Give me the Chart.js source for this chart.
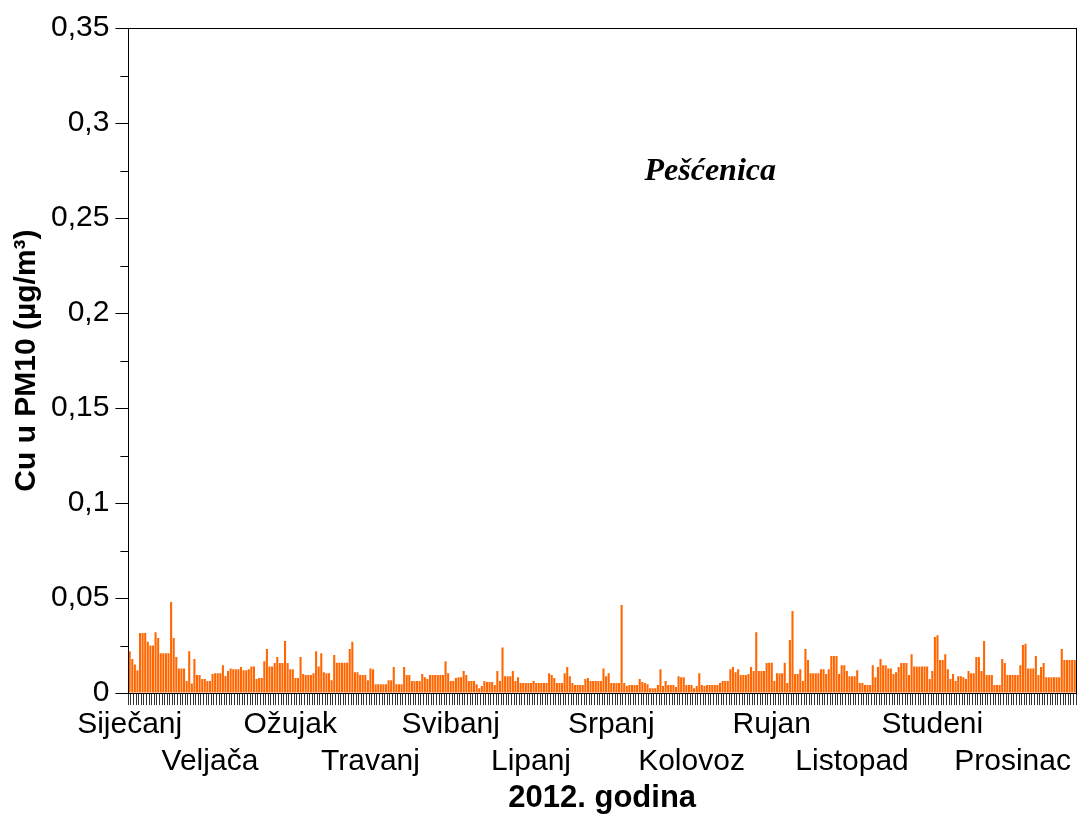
<!DOCTYPE html>
<html>
<head>
<meta charset="utf-8">
<script src="https://cdn.jsdelivr.net/npm/chart.js@4/dist/chart.umd.min.js"></script>
<style>
	html, body { margin: 0; padding: 0; background: #fff; }
	#wrap { width: 1089px; height: 814px; }
</style>
</head>
<body>
<div id="wrap"><canvas id="myChart" width="1089" height="814"></canvas></div>
<script>
// Nazivi mjeseci (x os)
var months = ['Siječanj', 'Veljača', 'Ožujak', 'Travanj', 'Svibanj', 'Lipanj',
	'Srpanj', 'Kolovoz', 'Rujan', 'Listopad', 'Studeni', 'Prosinac'];

// Dnevne vrijednosti Cu u PM10 (µg/m³), 2012.
var sijecanj = [0.022, 0.018, 0.015, 0.012, 0.0316, 0.0316, 0.0316, 0.027, 0.025, 0.025,
	0.032, 0.029, 0.021, 0.021, 0.021, 0.021, 0.048, 0.029, 0.019, 0.013,
	0.013, 0.013, 0.0063, 0.022, 0.005, 0.018, 0.0095, 0.0095, 0.0074, 0.0074, 0.0063];
var veljaca = [0.0063, 0.010, 0.0105, 0.0105, 0.0105, 0.0147, 0.009, 0.0116, 0.013, 0.0126,
	0.0126, 0.0126, 0.0137, 0.012, 0.012, 0.0126, 0.014, 0.014, 0.0074, 0.0079,
	0.0079, 0.0168, 0.0232, 0.014, 0.014, 0.0158, 0.019, 0.0158, 0.0158];
var ozujak = [0.0274, 0.0158, 0.0126, 0.0126, 0.0079, 0.0079, 0.019, 0.010, 0.0095, 0.0095,
	0.0095, 0.0105, 0.022, 0.014, 0.021, 0.011, 0.0105, 0.0105, 0.0068, 0.020,
	0.016, 0.016, 0.016, 0.016, 0.016, 0.0232, 0.027, 0.011, 0.011, 0.0095, 0.0095];
var travanj = [0.0095, 0.0068, 0.013, 0.0126, 0.0047, 0.0047, 0.0047, 0.0047, 0.0047, 0.0068,
	0.0068, 0.0137, 0.0047, 0.0047, 0.0047, 0.0137, 0.0095, 0.0095, 0.0063, 0.0063,
	0.0063, 0.0063, 0.010, 0.0084, 0.0074, 0.0095, 0.0095, 0.0095, 0.0095, 0.0095];
var svibanj = [0.0095, 0.0168, 0.0105, 0.0063, 0.0063, 0.0079, 0.0084, 0.0084, 0.0116, 0.0095,
	0.0063, 0.0063, 0.0063, 0.0047, 0.0026, 0.0037, 0.0063, 0.0058, 0.0058, 0.0058,
	0.0042, 0.0116, 0.0063, 0.024, 0.0089, 0.0089, 0.0089, 0.0116, 0.0063, 0.0084, 0.0053];
var lipanj = [0.0053, 0.0053, 0.0053, 0.0053, 0.0063, 0.0053, 0.0053, 0.0053, 0.0053, 0.0053,
	0.0105, 0.0095, 0.0079, 0.0053, 0.0053, 0.0053, 0.0105, 0.0137, 0.0089, 0.0053,
	0.0042, 0.0042, 0.0042, 0.0042, 0.0074, 0.0079, 0.0063, 0.0063, 0.0063, 0.0063];
var srpanj = [0.0063, 0.013, 0.0089, 0.0105, 0.0053, 0.0053, 0.0053, 0.0053, 0.0463, 0.0053,
	0.0037, 0.0042, 0.0042, 0.0042, 0.0042, 0.0074, 0.0058, 0.0053, 0.0047, 0.0026,
	0.0026, 0.0026, 0.0042, 0.0126, 0.0037, 0.0063, 0.0042, 0.0042, 0.0042, 0.0032, 0.0089];
var kolovoz = [0.0084, 0.0084, 0.0042, 0.0042, 0.0042, 0.0026, 0.0037, 0.0105, 0.0042, 0.0037,
	0.0042, 0.0042, 0.0042, 0.0042, 0.0042, 0.0053, 0.0063, 0.0063, 0.0063, 0.0126,
	0.0137, 0.011, 0.0126, 0.0095, 0.0095, 0.0095, 0.010, 0.0137, 0.0116, 0.032, 0.0116];
var rujan = [0.0116, 0.0116, 0.0158, 0.016, 0.016, 0.0063, 0.0105, 0.0105, 0.0105, 0.016,
	0.0053, 0.028, 0.0432, 0.010, 0.010, 0.0126, 0.0063, 0.0232, 0.0174, 0.0105,
	0.0105, 0.0105, 0.0105, 0.0126, 0.0126, 0.010, 0.0126, 0.0195, 0.0195, 0.0195];
var listopad = [0.010, 0.0147, 0.0147, 0.0116, 0.0089, 0.0089, 0.0089, 0.012, 0.0053, 0.0053,
	0.0042, 0.0042, 0.0042, 0.0147, 0.0084, 0.0137, 0.0179, 0.0147, 0.0147, 0.013,
	0.013, 0.010, 0.011, 0.0137, 0.0158, 0.0158, 0.0158, 0.0095, 0.0205, 0.014, 0.014];
var studeni = [0.014, 0.014, 0.014, 0.014, 0.0074, 0.0116, 0.0295, 0.0305, 0.0174, 0.0174,
	0.0205, 0.0126, 0.0074, 0.010, 0.0063, 0.0089, 0.0089, 0.0084, 0.0074, 0.0116,
	0.0105, 0.0105, 0.019, 0.019, 0.0116, 0.0274, 0.0095, 0.0095, 0.0095, 0.0042];
var prosinac = [0.0042, 0.0042, 0.0179, 0.0158, 0.0095, 0.0095, 0.0095, 0.0095, 0.0095, 0.0147,
	0.0253, 0.026, 0.013, 0.013, 0.013, 0.0195, 0.0095, 0.0137, 0.0158, 0.0084,
	0.0084, 0.0084, 0.0084, 0.0084, 0.0084, 0.0232, 0.0174, 0.0174, 0.0174, 0.0174, 0.0174];

// Oznake y osi
var yMin = 0;
var yMax = 0.35;
var yMajor = 0.05;
var yMinor = 0.025;
// natpis na x osi svakih 31 dan (kao u Excelu)
var labelEvery = 31;

var monthly = [sijecanj, veljaca, ozujak, travanj, svibanj, lipanj,
	srpanj, kolovoz, rujan, listopad, studeni, prosinac];

// Jedan stupac po danu
var labels = [];
var values = [];
var monthOf = [];
monthly.forEach(function(arr, m) {
	arr.forEach(function(v, d) {
		labels.push((d + 1) + '.' + (m + 1) + '.');
		values.push(v);
		monthOf.push(m);
	});
});

function isMajor(v) {
	var r = v / yMajor;
	return Math.abs(r - Math.round(r)) < 1e-6;
}

// Okvir, male crtice na y osi i natpis postaje
var extras = {
	id: 'extras',
	afterDraw: function(chart) {
		var c = chart.ctx;
		var a = chart.chartArea;
		var y = chart.scales.y;
		c.save();
		c.strokeStyle = '#000';
		c.lineWidth = 1;
		c.strokeRect(Math.round(a.left) + 0.5, Math.round(a.top) + 0.5,
			Math.round(a.right - a.left), Math.round(a.bottom - a.top));
		for (var v = yMin; v <= yMax + 1e-9; v += yMinor) {
			if (isMajor(v)) continue;
			var py = Math.round(y.getPixelForValue(v)) + 0.5;
			c.beginPath();
			c.moveTo(a.left - 8, py);
			c.lineTo(a.left, py);
			c.stroke();
		}
		c.fillStyle = '#000';
		c.font = 'italic bold 32px "Liberation Serif", "Times New Roman", serif';
		c.textAlign = 'center';
		c.textBaseline = 'alphabetic';
		c.fillText('Pešćenica', a.left + (a.right - a.left) * 0.614, y.getPixelForValue(0.27));
		c.restore();
	}
};

var ctx = document.getElementById('myChart').getContext('2d');
var myChart = new Chart(ctx, {
	type: 'bar',
	data: {
		labels: labels,
		datasets: [
			{
				label: 'Cu u PM10',
				data: values,
				backgroundColor: '#FF6600',
				borderWidth: 0,
				barPercentage: 0.8,
				categoryPercentage: 1.0,
			}
		]
	},
	options: {
		responsive: false,
		animation: false,
		layout: { padding: { top: 28, right: 13, left: 9, bottom: 0 } },
		plugins: {
			legend: { display: false },
			tooltip: { enabled: false }
		},
		scales: {
			x: {
				grid: {
					display: true,
					drawOnChartArea: false,
					tickLength: 12,
					color: '#333',
				},
				border: { display: true, color: '#000' },
				ticks: {
					autoSkip: false,
					maxRotation: 0,
					minRotation: 0,
					padding: 1,
					color: '#000',
					font: { family: '"Liberation Sans", Arial, sans-serif', size: 30, lineHeight: 1.233 },
					callback: function(value, index) {
						if (index % labelEvery !== 0) return '';
						var name = months[monthOf[index]];
						return (index / labelEvery) % 2 === 0 ? name : ['', name];
					}
				},
				title: {
					display: true,
					text: '2012. godina',
					color: '#000',
					padding: { top: 1, bottom: 0 },
					font: { family: '"Liberation Sans", Arial, sans-serif', size: 31, weight: 'bold', lineHeight: 1.03 }
				}
			},
			y: {
				min: yMin,
				max: yMax,
				grid: {
					drawOnChartArea: false,
					tickLength: 13,
					tickColor: function(c) {
						return isMajor(c.tick.value) ? '#000' : 'rgba(0,0,0,0)';
					}
				},
				border: { display: true, color: '#000' },
				ticks: {
					stepSize: yMinor,
					padding: 6,
					color: '#000',
					font: { family: '"Liberation Sans", Arial, sans-serif', size: 30 },
					callback: function(value) {
						if (!isMajor(value)) return '';
						return String(Number(value.toFixed(3))).replace('.', ',');
					}
				},
				title: {
					display: true,
					text: 'Cu u PM10 (µg/m³)',
					color: '#000',
					padding: { top: 0, bottom: 0 },
					font: { family: '"Liberation Sans", Arial, sans-serif', size: 30, weight: 'bold' }
				}
			}
		}
	},
	plugins: [extras]
});
</script>
</body>
</html>
